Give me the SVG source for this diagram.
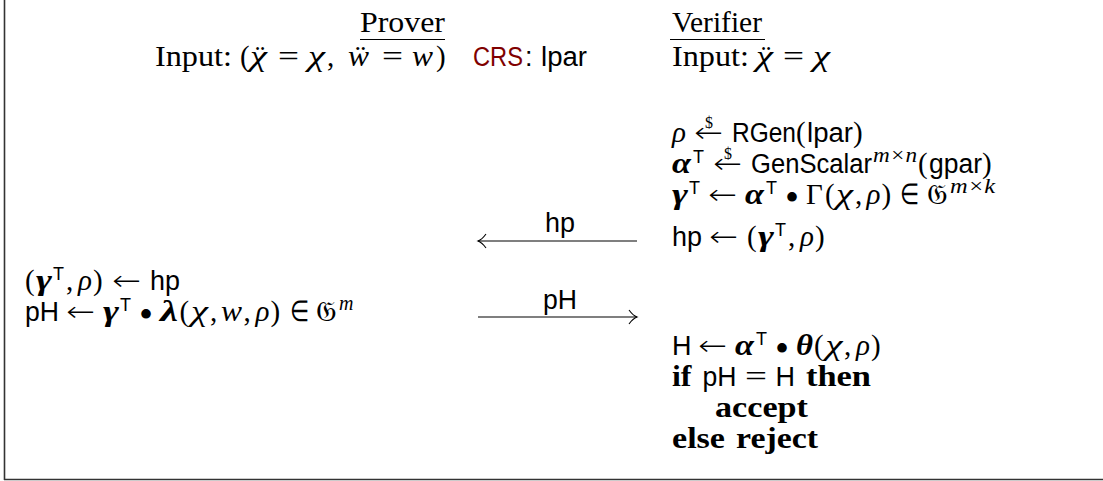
<svg xmlns="http://www.w3.org/2000/svg" width="1103" height="481" viewBox="0 0 1103 481">
<style>
text{fill:#000}
.r{font-family:"Liberation Serif",serif;font-size:29px}
.i{font-family:"Liberation Serif",serif;font-size:29px;font-style:italic}
.bi{font-family:"Liberation Serif",serif;font-size:29px;font-style:italic;font-weight:bold}
.b{font-family:"Liberation Serif",serif;font-size:29px;font-weight:bold}
.s{font-family:"Liberation Sans",sans-serif;font-size:27px}
.sup{font-family:"Liberation Sans",sans-serif;font-size:18px}
.supi{font-family:"Liberation Serif",serif;font-size:20px;font-style:italic}
.dol{font-family:"Liberation Serif",serif;font-size:16px}
.bul{font-family:"Liberation Serif",serif;font-size:40px}
.arr{font-family:"DejaVu Sans",sans-serif;font-size:28px;font-weight:200}
.frak{font-family:"DejaVu Serif","DejaVu Sans","Noto Sans",serif;font-size:29px}
.crs{fill:#800000}
.rule{stroke:#000;stroke-width:1.2;fill:none}
.frame{stroke:#333;stroke-width:1.6;fill:none}
.msg{stroke:#000;stroke-width:1.1;fill:none}
</style>

<g id="frame">
<line class="frame" x1="4.5" y1="0" x2="4.5" y2="480"/>
<line class="frame" x1="4" y1="479.5" x2="1103" y2="479.5"/>
</g>

<g id="prover-header">
<text class="r" x="360" y="32" textLength="85" lengthAdjust="spacingAndGlyphs">Prover</text>
<line class="rule" x1="360" y1="39.5" x2="445" y2="39.5"/>
<text class="r" x="155" y="66" textLength="77" lengthAdjust="spacingAndGlyphs">Input:</text>
<text class="r" x="240" y="66">(</text>
<text class="i" x="250" y="66" textLength="17" lengthAdjust="spacingAndGlyphs">χ</text>
<text class="r" x="260" y="66" text-anchor="middle">¨</text>
<text class="r" x="278" y="66" textLength="21" lengthAdjust="spacingAndGlyphs">=</text>
<text class="i" x="308" y="66" textLength="17" lengthAdjust="spacingAndGlyphs">χ</text>
<text class="r" x="327" y="66">,</text>
<text class="i" x="348" y="66" textLength="21" lengthAdjust="spacingAndGlyphs">ẅ</text>
<text class="r" x="382" y="66" textLength="21" lengthAdjust="spacingAndGlyphs">=</text>
<text class="i" x="412" y="66" textLength="21" lengthAdjust="spacingAndGlyphs">w</text>
<text class="r" x="436" y="66">)</text>
</g>

<g id="crs">
<text class="s crs" x="473" y="66" textLength="50" lengthAdjust="spacingAndGlyphs">CRS</text>
<text class="s" x="525" y="66">:</text>
<text class="s" x="541" y="66" textLength="46" lengthAdjust="spacingAndGlyphs">lpar</text>
</g>

<g id="verifier-header">
<text class="r" x="672" y="32" textLength="90" lengthAdjust="spacingAndGlyphs">Verifier</text>
<line class="rule" x1="670" y1="39.5" x2="765" y2="39.5"/>
<text class="r" x="672" y="66" textLength="77" lengthAdjust="spacingAndGlyphs">Input:</text>
<text class="i" x="756" y="66" textLength="17" lengthAdjust="spacingAndGlyphs">χ</text>
<text class="r" x="766" y="66" text-anchor="middle">¨</text>
<text class="r" x="783" y="66" textLength="21" lengthAdjust="spacingAndGlyphs">=</text>
<text class="i" x="813" y="66" textLength="17" lengthAdjust="spacingAndGlyphs">χ</text>
</g>

<g id="verifier-setup">
<text class="i" x="672" y="142">ρ</text>
<text class="arr" x="694" y="142" textLength="29" lengthAdjust="spacingAndGlyphs">←</text>
<text class="dol" x="709" y="128" text-anchor="middle">$</text>
<text class="s" x="732" y="142" textLength="64" lengthAdjust="spacingAndGlyphs">RGen</text>
<text class="r" x="796" y="142">(</text>
<text class="s" x="807" y="142" textLength="46" lengthAdjust="spacingAndGlyphs">lpar</text>
<text class="r" x="853" y="142">)</text>

<text class="bi" x="672" y="173" textLength="19" lengthAdjust="spacingAndGlyphs">α</text>
<text class="sup" x="693" y="163">T</text>
<text class="arr" x="713" y="173" textLength="29" lengthAdjust="spacingAndGlyphs">←</text>
<text class="dol" x="728" y="159" text-anchor="middle">$</text>
<text class="s" x="751" y="173" textLength="121" lengthAdjust="spacingAndGlyphs">GenScalar</text>
<text class="supi" x="873" y="162" textLength="44" lengthAdjust="spacingAndGlyphs">m×n</text>
<text class="r" x="918" y="173">(</text>
<text class="s" x="929" y="173" textLength="53" lengthAdjust="spacingAndGlyphs">gpar</text>
<text class="r" x="982" y="173">)</text>

<text class="bi" x="672" y="204" textLength="16" lengthAdjust="spacingAndGlyphs">γ</text>
<text class="sup" x="689" y="194">T</text>
<text class="arr" x="708" y="204" textLength="29" lengthAdjust="spacingAndGlyphs">←</text>
<text class="bi" x="745" y="204" textLength="19" lengthAdjust="spacingAndGlyphs">α</text>
<text class="sup" x="766" y="194">T</text>
<text class="bul" x="792" y="211" text-anchor="middle">•</text>
<text class="r" x="806" y="204">Γ</text>
<text class="r" x="825" y="204">(</text>
<text class="i" x="836" y="204" textLength="17" lengthAdjust="spacingAndGlyphs">χ</text>
<text class="r" x="855" y="204">,</text>
<text class="i" x="866.5" y="204">ρ</text>
<text class="r" x="881.5" y="204">)</text>
<text class="r" x="900" y="204" textLength="19" lengthAdjust="spacingAndGlyphs">∈</text>
<text class="frak" x="927" y="204">𝔊</text>
<text class="supi" x="950" y="193" textLength="45" lengthAdjust="spacingAndGlyphs">m×k</text>

<text class="s" x="672" y="246" textLength="30" lengthAdjust="spacingAndGlyphs">hp</text>
<text class="arr" x="709" y="246" textLength="29" lengthAdjust="spacingAndGlyphs">←</text>
<text class="r" x="747" y="246">(</text>
<text class="bi" x="758" y="246" textLength="16" lengthAdjust="spacingAndGlyphs">γ</text>
<text class="sup" x="775" y="236">T</text>
<text class="r" x="788" y="246">,</text>
<text class="i" x="800" y="246">ρ</text>
<text class="r" x="815" y="246">)</text>
</g>

<g id="prover-compute">
<text class="r" x="25" y="290">(</text>
<text class="bi" x="36" y="290" textLength="16" lengthAdjust="spacingAndGlyphs">γ</text>
<text class="sup" x="53" y="280">T</text>
<text class="r" x="66" y="290">,</text>
<text class="i" x="78" y="290">ρ</text>
<text class="r" x="93" y="290">)</text>
<text class="arr" x="112" y="290" textLength="29" lengthAdjust="spacingAndGlyphs">←</text>
<text class="s" x="150" y="290" textLength="30" lengthAdjust="spacingAndGlyphs">hp</text>

<text class="s" x="25" y="321" textLength="34" lengthAdjust="spacingAndGlyphs">pH</text>
<text class="arr" x="66" y="321" textLength="29" lengthAdjust="spacingAndGlyphs">←</text>
<text class="bi" x="103" y="321" textLength="16" lengthAdjust="spacingAndGlyphs">γ</text>
<text class="sup" x="120" y="311">T</text>
<text class="bul" x="146" y="328" text-anchor="middle">•</text>
<text class="bi" x="160" y="321" textLength="18" lengthAdjust="spacingAndGlyphs">λ</text>
<text class="r" x="179.5" y="321">(</text>
<text class="i" x="191" y="321" textLength="17" lengthAdjust="spacingAndGlyphs">χ</text>
<text class="r" x="210" y="321">,</text>
<text class="i" x="221" y="321" textLength="21" lengthAdjust="spacingAndGlyphs">w</text>
<text class="r" x="243.5" y="321">,</text>
<text class="i" x="255.5" y="321">ρ</text>
<text class="r" x="270.5" y="321">)</text>
<text class="r" x="290" y="321" textLength="19" lengthAdjust="spacingAndGlyphs">∈</text>
<text class="frak" x="316" y="321">𝔊</text>
<text class="supi" x="339" y="310">m</text>
</g>

<g id="verifier-check">
<text class="s" x="672" y="355">H</text>
<text class="arr" x="698" y="355" textLength="29" lengthAdjust="spacingAndGlyphs">←</text>
<text class="bi" x="735" y="355" textLength="19" lengthAdjust="spacingAndGlyphs">α</text>
<text class="sup" x="756" y="345">T</text>
<text class="bul" x="782" y="362" text-anchor="middle">•</text>
<text class="bi" x="796" y="355" textLength="17" lengthAdjust="spacingAndGlyphs">θ</text>
<text class="r" x="814" y="355">(</text>
<text class="i" x="825.5" y="355" textLength="17" lengthAdjust="spacingAndGlyphs">χ</text>
<text class="r" x="844" y="355">,</text>
<text class="i" x="856" y="355">ρ</text>
<text class="r" x="871" y="355">)</text>

<text class="b" x="672" y="386" textLength="19.5" lengthAdjust="spacingAndGlyphs">if</text>
<text class="s" x="702.5" y="386" textLength="34" lengthAdjust="spacingAndGlyphs">pH</text>
<text class="r" x="745" y="386" textLength="22" lengthAdjust="spacingAndGlyphs">=</text>
<text class="s" x="775.5" y="386">H</text>
<text class="b" x="806" y="386" textLength="65" lengthAdjust="spacingAndGlyphs">then</text>
<text class="b" x="715" y="417" textLength="93" lengthAdjust="spacingAndGlyphs">accept</text>
<text class="b" x="672" y="448" textLength="53" lengthAdjust="spacingAndGlyphs">else</text>
<text class="b" x="736" y="448" textLength="82" lengthAdjust="spacingAndGlyphs">reject</text>
</g>

<g id="connectors">
<g id="msg-hp">
<line class="msg" x1="478" y1="241" x2="637" y2="241"/>
<path class="msg" d="M486,234 Q482,239.5 478,241 Q482,242.5 486,248"/>
<text class="s" x="560" y="232" text-anchor="middle" textLength="30" lengthAdjust="spacingAndGlyphs">hp</text>
</g>
<g id="msg-pH">
<line class="msg" x1="478" y1="317" x2="637" y2="317"/>
<path class="msg" d="M629,310 Q633,315.5 637,317 Q633,318.5 629,324"/>
<text class="s" x="560" y="309" text-anchor="middle" textLength="34" lengthAdjust="spacingAndGlyphs">pH</text>
</g>
</g>
</svg>
